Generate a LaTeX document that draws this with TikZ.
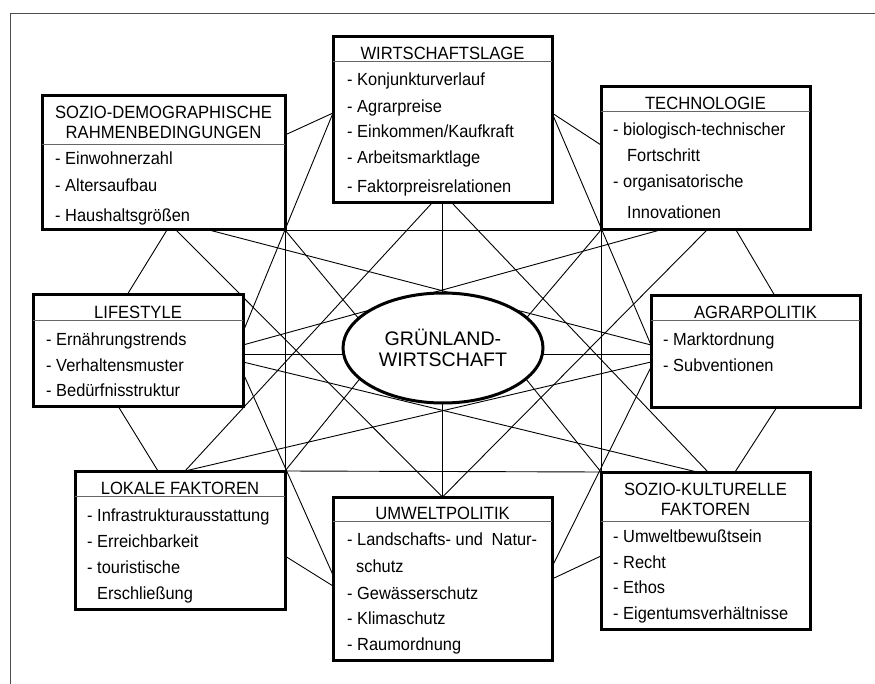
\documentclass[tikz,border=0pt]{standalone}
\usepackage{fontspec}
\setmainfont{Liberation Sans}
\usetikzlibrary{calc,shapes.geometric}
\pgfdeclarelayer{bg}
\pgfsetlayers{bg,main}
\begin{document}
\begin{tikzpicture}[x=1pt,y=-1pt,
  box/.style={draw, line width=3pt, fill=white, inner sep=0pt, outer sep=0pt, anchor=north west},
  sepline/.style={line width=1pt, black!60},
  conn/.style={line width=0.9pt, black},
  frameline/.style={line width=0.9pt, black!70},
  ttl/.style={anchor=base, inner sep=0pt, yscale=1.07, transform shape, font=\fontsize{16.6pt}{20pt}\selectfont},
  itm/.style={anchor=base west, inner sep=0pt, yscale=1.07, transform shape, font=\fontsize{16.4pt}{20pt}\selectfont},
  center/.style={ellipse, draw, line width=3pt, fill=white, inner sep=0pt, outer sep=0pt,
    minimum width=200pt, minimum height=110pt, align=center,
    font=\fontsize{19.6pt}{21pt}\selectfont}
]
\useasboundingbox (0,0) rectangle (875,684);

% frame
\coordinate (frTL) at (10.5,13);
\coordinate (frTR) at (875,13);
\coordinate (frBL) at (10.5,684);
\draw[frameline] (frTR) -- (frTL) -- (frBL);

% boxes
\node[box, minimum width=243pt, minimum height=134pt] (sd) at (42,96) {};
\node[box, minimum width=219pt, minimum height=166pt] (w) at (333,37) {};
\node[box, minimum width=209pt, minimum height=143pt] (t) at (601,87) {};
\node[box, minimum width=210pt, minimum height=111pt] (l) at (33,295) {};
\node[box, minimum width=209pt, minimum height=111pt] (a) at (651,296) {};
\node[box, minimum width=210pt, minimum height=138pt] (lf) at (75,471) {};
\node[box, minimum width=219pt, minimum height=163pt] (u) at (333,497) {};
\node[box, minimum width=209pt, minimum height=157pt] (sk) at (601,472) {};
\node[center] (g) at (443,348) {GRÜNLAND-\\WIRTSCHAFT};

% separators
\draw[sepline] ($(sd.north west)+(0,49)$) -- ($(sd.north east)+(0,49)$);
\draw[sepline] ($(w.north west)+(0,25)$) -- ($(w.north east)+(0,25)$);
\draw[sepline] ($(t.north west)+(0,25)$) -- ($(t.north east)+(0,25)$);
\draw[sepline] ($(l.north west)+(0,26)$) -- ($(l.north east)+(0,26)$);
\draw[sepline] ($(a.north west)+(0,25)$) -- ($(a.north east)+(0,25)$);
\draw[sepline] ($(lf.north west)+(0,25)$) -- ($(lf.north east)+(0,25)$);
\draw[sepline] ($(u.north west)+(0,24)$) -- ($(u.north east)+(0,24)$);
\draw[sepline] ($(sk.north west)+(0,49)$) -- ($(sk.north east)+(0,49)$);

% texts: SOZIO-DEMOGRAPHISCHE
\node[ttl] (sdt1) at (163.5,119) {SOZIO-DEMOGRAPHISCHE};
\node[ttl] (sdt2) at (163.5,139) {RAHMENBEDINGUNGEN};
\node[itm] (sdi1) at (55,165) {- Einwohnerzahl};
\node[itm] (sdi2) at (55,192) {- Altersaufbau};
\node[itm] (sdi3) at (55,222) {- Haushaltsgrößen};
% WIRTSCHAFTSLAGE
\node[ttl] (wt) at (442.5,60) {WIRTSCHAFTSLAGE};
\node[itm] (wi1) at (347,86) {- Konjunkturverlauf};
\node[itm] (wi2) at (347,113) {- Agrarpreise};
\node[itm] (wi3) at (347,138) {- Einkommen/Kaufkraft};
\node[itm] (wi4) at (347,164) {- Arbeitsmarktlage};
\node[itm] (wi5) at (347,193) {- Faktorpreisrelationen};
% TECHNOLOGIE
\node[ttl] (tt) at (705.5,110) {TECHNOLOGIE};
\node[itm] (ti1) at (613,136) {- biologisch-technischer};
\node[itm] (ti2) at (627,162) {Fortschritt};
\node[itm] (ti3) at (613,188) {- organisatorische};
\node[itm] (ti4) at (627,219) {Innovationen};
% LIFESTYLE
\node[ttl] (lt) at (138,319) {LIFESTYLE};
\node[itm] (li1) at (46,345) {- Ernährungstrends};
\node[itm] (li2) at (46,371) {- Verhaltensmuster};
\node[itm] (li3) at (46,396) {- Bedürfnisstruktur};
% AGRARPOLITIK
\node[ttl] (at) at (755.5,319) {AGRARPOLITIK};
\node[itm] (ai1) at (663,345) {- Marktordnung};
\node[itm] (ai2) at (663,371) {- Subventionen};
% LOKALE FAKTOREN
\node[ttl] (lft) at (180,494) {LOKALE FAKTOREN};
\node[itm] (lfi1) at (87,521) {- Infrastrukturausstattung};
\node[itm] (lfi2) at (87,547) {- Erreichbarkeit};
\node[itm] (lfi3) at (87,573) {- touristische};
\node[itm] (lfi4) at (97,599) {Erschließung};
% UMWELTPOLITIK
\node[ttl] (ut) at (442.5,519) {UMWELTPOLITIK};
\node[itm] (ui1) at (347,545) {- Landschafts- und\hspace{4pt} Natur-};
\node[itm] (ui2) at (356,572) {schutz};
\node[itm] (ui3) at (347,599) {- Gewässerschutz};
\node[itm] (ui4) at (347,624) {- Klimaschutz};
\node[itm] (ui5) at (347,650) {- Raumordnung};
% SOZIO-KULTURELLE FAKTOREN
\node[ttl] (skt1) at (705.5,495) {SOZIO-KULTURELLE};
\node[ttl] (skt2) at (705.5,515) {FAKTOREN};
\node[itm] (ski1) at (613,542) {- Umweltbewußtsein};
\node[itm] (ski2) at (613,568) {- Recht};
\node[itm] (ski3) at (613,593) {- Ethos};
\node[itm] (ski4) at (613,619) {- Eigentumsverhältnisse};

% connector end points
\coordinate (sdR) at ($(sd.north east)+(0,39)$);
\coordinate (sdB1) at ($(sd.south west)+(125,0)$);
\coordinate (sdB2) at ($(sd.south west)+(134,0)$);
\coordinate (sdB3) at ($(sd.south west)+(167,0)$);
\coordinate (wL) at ($(w.north west)+(0,76)$);
\coordinate (wR) at ($(w.north east)+(0,76)$);
\coordinate (wB1) at ($(w.south west)+(99,0)$);
\coordinate (wB3) at ($(w.south west)+(119,0)$);
\coordinate (tL) at ($(t.north west)+(0,58)$);
\coordinate (tB1) at ($(t.south west)+(59,0)$);
\coordinate (tB2) at ($(t.south west)+(106,0)$);
\coordinate (tB3) at ($(t.south west)+(135,0)$);
\coordinate (lT) at ($(l.north west)+(94,0)$);
\coordinate (lB) at ($(l.south west)+(85,0)$);
\coordinate (lR1) at ($(l.north east)+(0,37)$);
\coordinate (lR2) at ($(l.north east)+(0,50)$);
\coordinate (lR3) at ($(l.north east)+(0,59)$);
\coordinate (lR4) at ($(l.north east)+(0,67)$);
\coordinate (lR5) at ($(l.north east)+(0,78)$);
\coordinate (aT) at ($(a.north west)+(124,0)$);
\coordinate (aB) at ($(a.south west)+(126,0)$);
\coordinate (aL1) at ($(a.north west)+(0,49)$);
\coordinate (aL2) at ($(a.north west)+(0,58)$);
\coordinate (aL3) at ($(a.north west)+(0,66)$);
\coordinate (aL4) at ($(a.north west)+(0,71)$);
\coordinate (lfT1) at ($(lf.north west)+(83,0)$);
\coordinate (lfT2) at ($(lf.north west)+(110,0)$);
\coordinate (lfR) at ($(lf.north east)+(0,85)$);
\coordinate (uL1) at ($(u.north west)+(0,78)$);
\coordinate (uL2) at ($(u.north west)+(0,89)$);
\coordinate (uR1) at ($(u.north east)+(0,70)$);
\coordinate (uR2) at ($(u.north east)+(0,82)$);
\coordinate (skT1) at ($(sk.north west)+(96,0)$);
\coordinate (skT2) at ($(sk.north west)+(107,0)$);
\coordinate (skT3) at ($(sk.north west)+(134,0)$);
\coordinate (skL) at ($(sk.north west)+(0,84)$);
\coordinate (gL) at ($(g.center)+(-59,1)$);
\coordinate (gR) at ($(g.center)+(58,0)$);

\begin{pgfonlayer}{bg}
% neighbours
\draw[conn] (sdR) -- (wL);
\draw[conn] (wR) -- (tL);
\draw[conn] (tB3) -- (aT);
\draw[conn] (aB) -- (skT3);
\draw[conn] (skL) -- (uR2);
\draw[conn] (uL2) -- (lfR);
\draw[conn] (lfT1) -- (lB);
\draw[conn] (lT) -- (sdB1);
% second neighbours
\draw[conn] (sd.south east) -- (t.south west);
\draw[conn] (t.south west) -- (sk.north west);
\draw[conn] (sk.north west) -- (lf.north east);
\draw[conn] (lf.north east) -- (sd.south east);
\draw[conn] (wR) -- (aL1);
\draw[conn] (lR1) -- (wL);
\draw[conn] (uL1) -- (lR5);
\draw[conn] (aL4) -- (uR1);
% third neighbours
\draw[conn] (sdB3) -- (aL1);
\draw[conn] (tB1) -- (lR2);
\draw[conn] (sdB2) -- (u.north);
\draw[conn] (tB2) -- (u.north);
\draw[conn] (lR4) -- (skT1);
\draw[conn] (aL3) -- (lfT2);
\draw[conn] (wB1) -- (lfT2);
\draw[conn] (wB3) -- (skT2);
% to the centre
\draw[conn] (sd.south east) -- (gL);
\draw[conn] (lf.north east) -- (gL);
\draw[conn] (t.south west) -- (gR);
\draw[conn] (sk.north west) -- (gR);
\draw[conn] (w.south) -- (u.north);
\draw[conn] (lR3) -- (aL2);
\end{pgfonlayer}
\end{tikzpicture}
\end{document}
